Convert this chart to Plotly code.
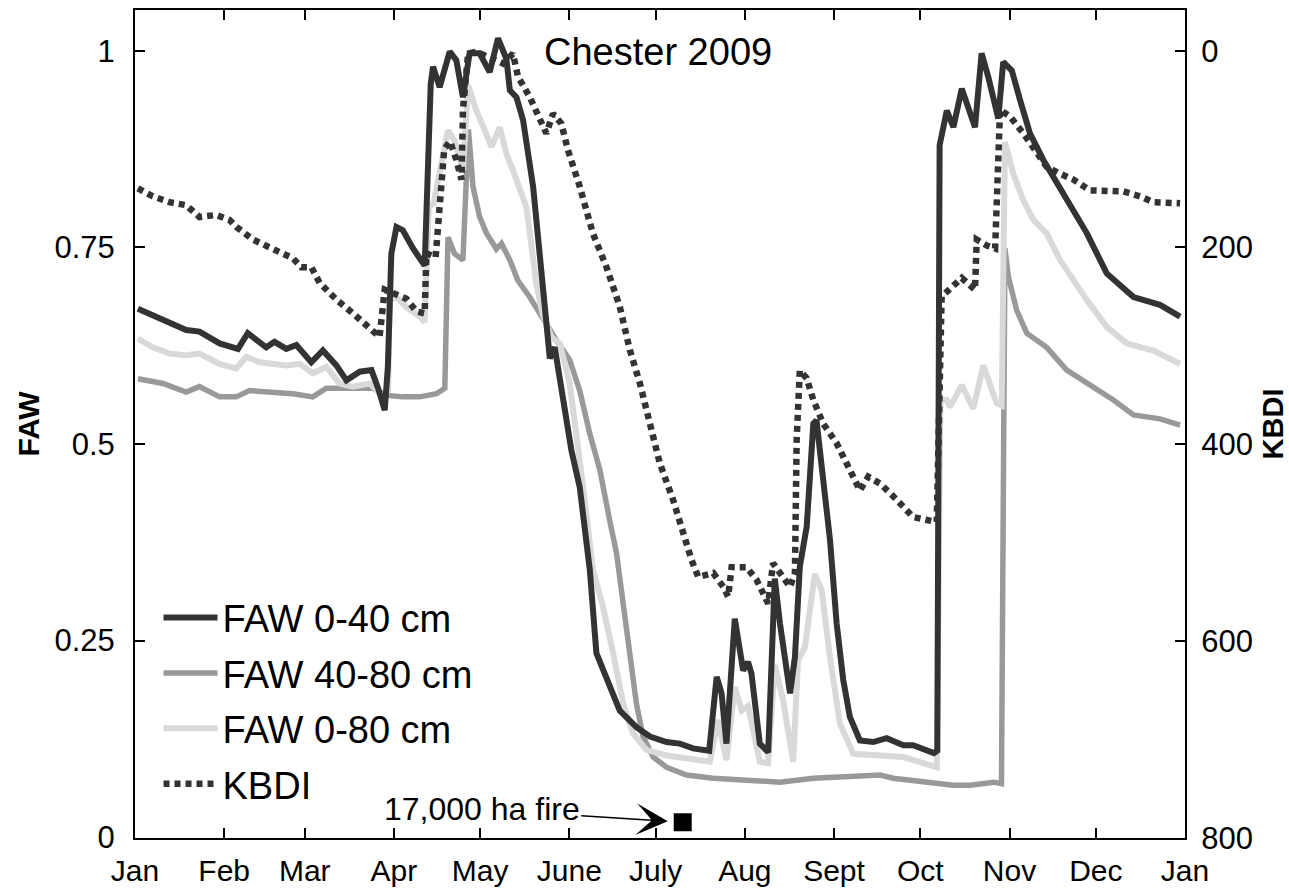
import plotly.graph_objects as go

# ---------------- data (day of year, value) ----------------
month_ticks = [0, 31, 59, 90, 120, 151, 181, 212, 243, 273, 304, 334, 365]
month_labels = ["Jan", "Feb", "Mar", "Apr", "May", "June", "July", "Aug",
                "Sept", "Oct", "Nov", "Dec", "Jan"]

faw_0_40 = [
    (1.0, 0.672), (6.2, 0.664), (17.8, 0.645), (22.4, 0.643), (29.4, 0.628),
    (35.8, 0.621), (39.2, 0.641), (45.6, 0.623), (48.5, 0.630), (52.6, 0.621),
    (56.1, 0.626), (61.3, 0.604), (65.3, 0.619), (70.0, 0.600), (73.5, 0.581),
    (78.1, 0.592), (82.2, 0.594), (84.5, 0.571), (86.8, 0.543), (87.9, 0.598),
    (89.1, 0.742), (90.9, 0.776), (93.1, 0.772), (96.6, 0.749), (100.7, 0.727),
    (102.8, 0.958), (103.6, 0.980), (105.9, 0.954), (109.4, 0.999), (111.7, 0.988),
    (114.0, 0.941), (116.3, 0.997), (119.8, 0.997), (123.3, 0.973), (126.2, 1.016),
    (129.1, 0.990), (130.3, 0.950), (132.6, 0.941), (134.9, 0.912), (138.4, 0.827),
    (140.7, 0.742), (143.0, 0.657), (144.2, 0.609), (145.9, 0.623), (148.8, 0.556),
    (151.7, 0.492), (154.6, 0.445), (158.1, 0.340), (160.4, 0.234), (163.9, 0.204),
    (168.5, 0.161), (174.3, 0.140), (179.0, 0.128), (184.8, 0.121), (189.4, 0.119),
    (194.0, 0.113), (199.6, 0.110), (202.2, 0.204), (203.9, 0.183), (205.6, 0.119),
    (208.5, 0.278), (211.4, 0.212), (213.1, 0.223), (214.3, 0.208), (217.2, 0.119),
    (220.1, 0.108), (222.4, 0.329), (224.2, 0.272), (227.7, 0.183), (229.4, 0.229),
    (231.1, 0.344), (233.5, 0.395), (235.8, 0.526), (236.9, 0.530), (239.2, 0.463),
    (241.6, 0.378), (243.9, 0.272), (246.2, 0.200), (248.5, 0.153), (252.0, 0.123),
    (256.6, 0.121), (261.3, 0.126), (267.1, 0.117), (270.5, 0.117), (277.7, 0.107),
    (278.9, 0.110), (279.7, 0.880), (280.4, 0.895), (282.2, 0.924), (284.5, 0.903),
    (287.4, 0.952), (292.0, 0.903), (294.3, 0.997), (296.6, 0.967), (300.1, 0.914),
    (301.8, 0.986), (304.8, 0.975), (307.7, 0.937), (311.1, 0.895), (315.8, 0.861),
    (319.2, 0.840), (323.9, 0.810), (330.9, 0.768), (337.8, 0.717), (347.1, 0.687),
    (356.3, 0.677), (363.3, 0.662),
]

faw_40_80 = [
    (1.0, 0.583), (5.0, 0.581), (9.7, 0.577), (17.8, 0.566), (22.4, 0.573),
    (29.4, 0.560), (35.2, 0.560), (39.8, 0.568), (46.8, 0.566), (54.9, 0.564),
    (61.8, 0.560), (66.5, 0.571), (75.8, 0.571), (82.7, 0.571), (87.4, 0.562),
    (93.1, 0.560), (99.0, 0.560), (104.8, 0.564), (107.7, 0.571), (108.8, 0.763),
    (111.1, 0.742), (114.0, 0.734), (115.9, 0.900), (117.5, 0.827), (119.8, 0.789),
    (122.2, 0.768), (125.6, 0.748), (127.4, 0.755), (130.3, 0.734), (133.1, 0.708),
    (137.2, 0.687), (140.7, 0.666), (146.5, 0.632), (151.1, 0.607), (154.6, 0.568),
    (158.1, 0.513), (161.6, 0.467), (165.0, 0.403), (167.4, 0.361), (169.7, 0.297),
    (172.0, 0.234), (174.3, 0.170), (176.6, 0.128), (180.1, 0.102), (184.8, 0.089),
    (191.7, 0.079), (201.0, 0.075), (212.6, 0.072), (224.2, 0.070), (235.8, 0.075),
    (247.4, 0.077), (259.0, 0.079), (263.6, 0.075), (275.2, 0.070), (284.4, 0.066),
    (290.3, 0.066), (298.4, 0.070), (301.2, 0.068), (302.4, 0.749), (303.6, 0.713),
    (306.5, 0.670), (310.0, 0.641), (316.9, 0.623), (323.9, 0.594), (333.1, 0.573),
    (340.1, 0.556), (347.1, 0.537), (356.3, 0.532), (363.3, 0.524),
]

faw_0_80 = [
    (1.0, 0.634), (6.2, 0.623), (12.0, 0.615), (17.8, 0.613), (22.4, 0.615),
    (29.4, 0.602), (35.2, 0.596), (38.7, 0.611), (43.3, 0.604), (47.9, 0.602),
    (52.6, 0.600), (57.2, 0.602), (61.8, 0.590), (66.5, 0.598), (71.1, 0.577),
    (75.8, 0.573), (81.6, 0.577), (86.2, 0.560), (88.0, 0.568), (88.5, 0.683),
    (90.9, 0.687), (94.3, 0.674), (99.0, 0.662), (100.7, 0.655), (102.1, 0.801),
    (103.8, 0.806), (108.8, 0.899), (111.1, 0.886), (114.0, 0.848), (115.8, 0.956),
    (118.7, 0.924), (121.6, 0.899), (123.9, 0.878), (126.8, 0.903), (129.1, 0.869),
    (131.4, 0.848), (136.1, 0.801), (139.5, 0.704), (141.8, 0.664), (144.8, 0.636),
    (147.7, 0.628), (151.1, 0.577), (153.5, 0.513), (155.8, 0.445), (159.2, 0.340),
    (162.7, 0.293), (166.2, 0.234), (169.7, 0.170), (173.1, 0.132), (177.8, 0.111),
    (184.8, 0.104), (189.4, 0.102), (195.2, 0.098), (199.8, 0.096), (202.7, 0.149),
    (205.6, 0.098), (208.5, 0.191), (210.9, 0.161), (213.1, 0.167), (217.2, 0.096),
    (220.1, 0.094), (222.4, 0.219), (225.3, 0.174), (228.8, 0.096), (230.5, 0.225),
    (232.9, 0.242), (236.3, 0.335), (238.7, 0.314), (241.6, 0.229), (245.0, 0.145),
    (249.7, 0.106), (259.0, 0.104), (267.1, 0.102), (278.7, 0.089), (280.0, 0.556),
    (282.2, 0.556), (283.3, 0.547), (287.4, 0.575), (291.4, 0.545), (294.9, 0.600),
    (299.5, 0.552), (301.3, 0.549), (302.4, 0.884), (305.3, 0.844), (308.8, 0.810),
    (312.3, 0.785), (316.9, 0.768), (321.6, 0.734), (326.2, 0.708), (330.9, 0.683),
    (337.8, 0.649), (344.8, 0.628), (354.0, 0.619), (363.3, 0.602),
]

kbdi = [
    (1.0, 140), (6.2, 148), (12.0, 154), (17.8, 157), (22.4, 169), (28.2, 167),
    (32.9, 172), (35.2, 179), (41.0, 192), (47.9, 201), (54.9, 211), (57.8, 220),
    (61.3, 220), (64.2, 236), (70.0, 253), (75.8, 267), (80.4, 279), (85.0, 291),
    (86.8, 243), (89.7, 247), (94.3, 252), (97.8, 265), (100.7, 267), (101.3, 206),
    (104.5, 210), (107.5, 100), (109.5, 92), (111.7, 111), (113.5, 131), (114.0, 60),
    (115.8, 3), (118.7, 1), (122.2, 6), (127.9, 13), (131.4, 3), (133.1, 26),
    (137.2, 47), (140.7, 70), (143.0, 84), (145.3, 64), (148.2, 74), (150.5, 101),
    (154.6, 138), (159.2, 186), (163.9, 220), (168.5, 260), (172.0, 304), (175.5, 338),
    (180.1, 389), (182.4, 419), (187.1, 457), (190.5, 491), (193.5, 518), (195.8, 535),
    (201.0, 531), (204.5, 545), (206.2, 555), (207.4, 525), (212.6, 525), (216.1, 538),
    (219.0, 558), (220.1, 562), (221.8, 521), (224.2, 531), (227.7, 545), (229.4, 531),
    (230.0, 396), (231.1, 325), (233.5, 333), (235.8, 355), (239.2, 379), (243.9, 399),
    (248.5, 426), (252.0, 447), (254.9, 433), (259.0, 440), (263.6, 453), (267.1, 464),
    (270.5, 474), (275.2, 477), (278.7, 479), (280.4, 250), (284.4, 240), (287.4, 231),
    (292.0, 243), (292.6, 192), (296.1, 198), (299.0, 201), (300.7, 60), (304.2, 67),
    (308.8, 84), (312.3, 98), (316.9, 118), (321.6, 125), (326.2, 131), (332.0, 142),
    (337.8, 143), (343.6, 143), (349.4, 148), (354.0, 154), (363.3, 155),
]

fire_day = [190.4]
fire_faw = [0.019]
fire_label = "17,000 ha fire"

FONT = "Liberation Sans, Arial, sans-serif"
DARK = "#333333"
MID = "#999999"
LIGHT = "#d9d9d9"


def xs(series):
    return [p[0] for p in series]


def ys(series):
    return [p[1] for p in series]


fig = go.Figure()

fig.add_trace(go.Scatter(x=xs(faw_40_80), y=ys(faw_40_80), mode="lines",
                         name="FAW 40-80 cm", legendgroup="b", legendrank=2,
                         line=dict(color=MID, width=5.5)))
fig.add_trace(go.Scatter(x=xs(faw_0_80), y=ys(faw_0_80), mode="lines",
                         name="FAW 0-80 cm", legendgroup="c", legendrank=3,
                         line=dict(color=LIGHT, width=6)))
fig.add_trace(go.Scatter(x=xs(faw_0_40), y=ys(faw_0_40), mode="lines",
                         name="FAW 0-40 cm", legendgroup="a", legendrank=1,
                         line=dict(color=DARK, width=6)))
fig.add_trace(go.Scatter(x=xs(kbdi), y=ys(kbdi), mode="lines", yaxis="y2",
                         name="KBDI", legendgroup="d", legendrank=4,
                         line=dict(color=DARK, width=6.5, dash="6px,5px")))
fig.add_trace(go.Scatter(x=fire_day, y=fire_faw, mode="markers", showlegend=False,
                         marker=dict(symbol="square", size=18, color="black")))

fig.add_annotation(x=fire_day[0], y=fire_faw[0], xref="x", yref="y",
                   text=fire_label, showarrow=True, ax=-201, ay=-13,
                   arrowhead=3, arrowsize=3.5, arrowwidth=1.5, arrowcolor="black",
                   standoff=15, font=dict(family=FONT, size=32, color="black"))

fig.add_annotation(x=0.498, y=0.949, xref="paper", yref="paper",
                   xanchor="center", yanchor="middle",
                   text="Chester 2009", showarrow=False,
                   font=dict(family=FONT, size=38, color="black"))

axis_common = dict(showgrid=False, zeroline=False, showline=True,
                   linecolor="black", linewidth=2, ticks="inside", ticklen=10,
                   tickwidth=1.5, tickcolor="black", automargin=False)

TICKFONT = dict(family=FONT, size=31, color="black")

fig.update_layout(
    width=1289, height=890,
    margin=dict(l=135, r=104, t=10, b=52),
    paper_bgcolor="white", plot_bgcolor="white",
    font=dict(family=FONT, color="black"),
    xaxis=dict(range=[0, 365], tickvals=month_ticks, ticktext=month_labels,
               mirror="ticks", ticklabelstandoff=5,
               tickfont=dict(family=FONT, size=30, color="black"), **axis_common),
    yaxis=dict(range=[-0.001, 1.052], tickvals=[0, 0.25, 0.5, 0.75, 1],
               ticktext=["0", "0.25", "0.5", "0.75", "1"], ticklabelstandoff=12,
               tickfont=TICKFONT,
               title=dict(text="<b>FAW</b>", standoff=6,
                          font=dict(family=FONT, size=30, color="black")),
               **axis_common),
    yaxis2=dict(range=[800.3, -41.4], overlaying="y", side="right",
                tickvals=[0, 200, 400, 600, 800], ticklabelstandoff=8,
                tickfont=TICKFONT,
                title=dict(text="<b>KBDI</b>", standoff=14,
                           font=dict(family=FONT, size=29, color="black")),
                **axis_common),
    showlegend=True,
    legend=dict(x=0.0224, y=0.304, xanchor="left", yanchor="top",
                bgcolor="rgba(0,0,0,0)", borderwidth=0, itemwidth=54,
                tracegroupgap=3, traceorder="grouped",
                font=dict(family=FONT, size=38, color="black")),
)

fig.write_html("out.html")
